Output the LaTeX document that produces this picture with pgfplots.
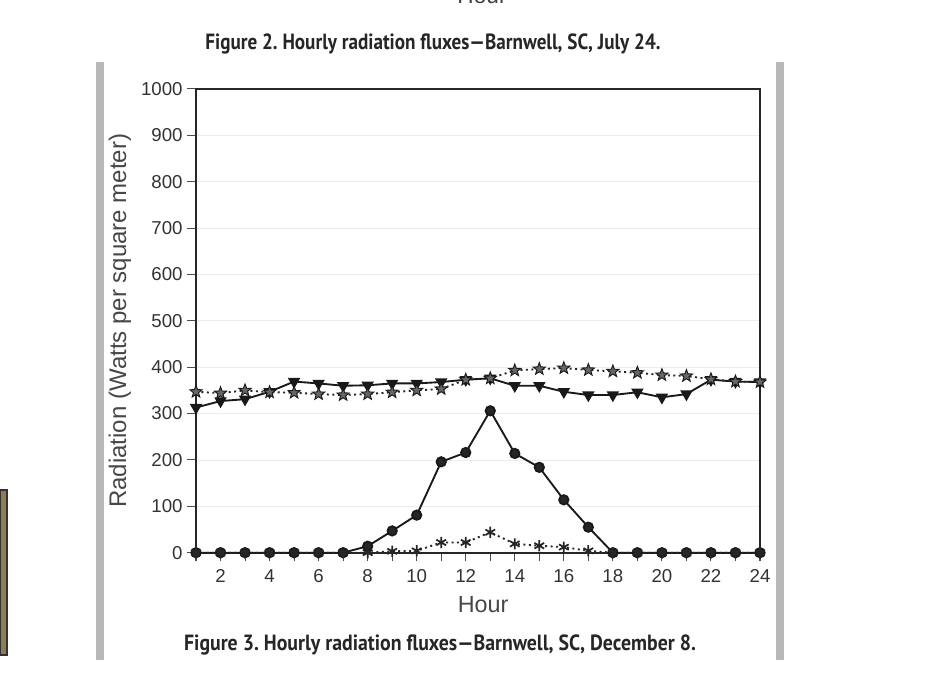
\documentclass[border=0pt]{standalone}
\usepackage{fontspec}
\setmainfont{Liberation Sans}
\newfontfamily\titlefont{PT Sans}
\usepackage{pgfplots}
\pgfplotsset{compat=1.18}
\usetikzlibrary{plotmarks}
\pgfdeclareplotmark{fstar}{%
 \pgfpathmoveto{\pgfpointpolar{90}{\pgfplotmarksize}}%
 \pgfpathlineto{\pgfpointpolar{126}{0.42\pgfplotmarksize}}%
 \pgfpathlineto{\pgfpointpolar{162}{\pgfplotmarksize}}%
 \pgfpathlineto{\pgfpointpolar{198}{0.42\pgfplotmarksize}}%
 \pgfpathlineto{\pgfpointpolar{234}{\pgfplotmarksize}}%
 \pgfpathlineto{\pgfpointpolar{270}{0.42\pgfplotmarksize}}%
 \pgfpathlineto{\pgfpointpolar{306}{\pgfplotmarksize}}%
 \pgfpathlineto{\pgfpointpolar{342}{0.42\pgfplotmarksize}}%
 \pgfpathlineto{\pgfpointpolar{18}{\pgfplotmarksize}}%
 \pgfpathlineto{\pgfpointpolar{54}{0.42\pgfplotmarksize}}%
 \pgfpathclose
 \pgfusepathqfillstroke}
\begin{document}
\begin{tikzpicture}
\useasboundingbox (0,0) rectangle (703.5pt,513.75pt);
\fill[white] (0,0) rectangle (703.5pt,513.75pt);
\begin{scope}[x=0.75pt,y=-0.75pt,shift={(0pt,513.75pt)}]
  \fill[black!28] (96,62) rectangle (104,660);
  \fill[black!28] (776,62) rectangle (784,660);
  \filldraw[fill={rgb,255:red,140;green,125;blue,85}, draw=black!80, line width=0.8pt] (0,490) rectangle (7,655);
  \node[font=\fontsize{17}{20}\selectfont, text=black!75] at (482,-4) {Hour};
  \node[font=\titlefont\bfseries\fontsize{16.5}{19}\selectfont, text=black!85] at (433,44) {\scalebox{0.87}[1]{Figure 2.\ Hourly radiation fluxes—Barnwell, SC, July 24.}};
  \node[font=\titlefont\bfseries\fontsize{16.5}{19}\selectfont, text=black!85] at (440,645) {\scalebox{0.9}[1]{Figure 3.\ Hourly radiation fluxes—Barnwell, SC, December 8.}};
\end{scope}
\begin{axis}[
  at={(147pt,99.23pt)}, anchor=south west,
  scale only axis, width=423pt, height=347.8pt,
  xmin=1, xmax=24, ymin=0, ymax=1000,
  xtick={2,4,...,24}, minor xtick={1,3,...,23},
  ytick={0,100,...,1000},
  tick align=outside, xtick pos=left, ytick pos=left,
  major tick length=6.5pt, minor tick length=6.5pt,
  every tick/.style={black!70, line width=0.8pt},
  axis line style={line width=1.3pt, black!85},
  ymajorgrids, grid style={black!7, line width=0.6pt},
  ticklabel style={font=\fontsize{14}{16}\selectfont, text=black!80},
  xticklabel style={yshift=-2.5pt},
  /pgf/number format/assume math mode=true,
  /pgf/number format/1000 sep={},
  xlabel={Hour}, ylabel={Radiation (Watts per square meter)},
  every axis x label/.style={at={(axis description cs:0.509,-0.111)}, anchor=center, font=\fontsize{17.5}{20}\selectfont, text=black!72},
  every axis y label/.style={at={(axis description cs:-0.135,0.5)}, anchor=center, rotate=90, font=\fontsize{18}{21}\selectfont, text=black!72},
  clip=false,
]
\addplot[black!90, line width=1.4pt, mark=triangle*, mark size=4pt, mark options={rotate=180, fill=black!90, solid}] coordinates {
(1,313)(2,327)(3,331)(4,347)(5,369)(6,365)(7,360)(8,361)(9,365)(10,365)(11,368)(12,373)
(13,376)(14,360)(15,360)(16,347)(17,340)(18,340)(19,346)(20,335)(21,342)(22,373)(23,369)(24,368)};
\addplot[black!85, line width=1.4pt, dash pattern=on 1.5pt off 2.6pt, mark=fstar, mark size=4.8pt, mark options={solid, fill=black!60, draw=black!90, line width=0.7pt}] coordinates {
(1,347)(2,344)(3,350)(4,346)(5,345)(6,342)(7,340)(8,342)(9,346)(10,350)(11,353)(12,373)
(13,376)(14,393)(15,396)(16,398)(17,394)(18,391)(19,388)(20,383)(21,381)(22,374)(23,369)(24,368)};
\addplot[black!90, line width=1.4pt, mark=*, mark size=3.5pt, mark options={fill=black!85, solid}] coordinates {
(1,0)(2,0)(3,0)(4,0)(5,0)(6,0)(7,0)(8,14)(9,47)(10,81)(11,196)(12,216)
(13,306)(14,214)(15,184)(16,114)(17,55)(18,0)(19,0)(20,0)(21,0)(22,0)(23,0)(24,0)};
\addplot[black!85, line width=1.4pt, dash pattern=on 1.5pt off 2.6pt, mark=asterisk, mark size=4.2pt, mark options={solid, line width=1.3pt}] coordinates {
(1,0)(2,0)(3,0)(4,0)(5,0)(6,0)(7,0)(8,0)(9,3)(10,4)(11,22)(12,22)
(13,44)(14,19)(15,15)(16,12)(17,4)(18,0)(19,0)(20,0)(21,0)(22,0)(23,0)(24,0)};
\end{axis}
\end{tikzpicture}
\end{document}
